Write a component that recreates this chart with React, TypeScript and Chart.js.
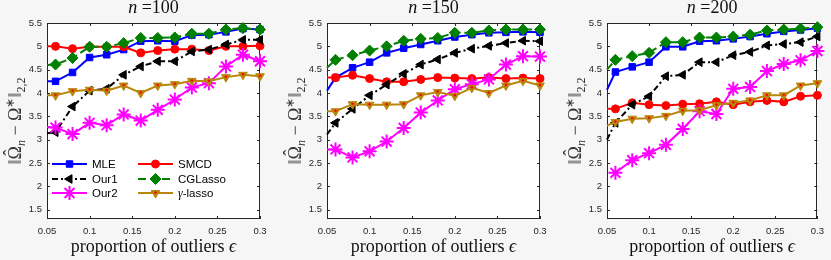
import React, { useEffect, useRef } from 'react';
import { Chart, registerables } from 'chart.js';
import { drawPoint } from 'chart.js/helpers';
Chart.register(...registerables);

// ---------------- data ----------------
const epsilonValues = [0.05, 0.06, 0.08, 0.1, 0.12, 0.14, 0.16, 0.18, 0.2, 0.22, 0.24, 0.26, 0.28, 0.3];
const xTickValues = [0.05, 0.1, 0.15, 0.2, 0.25, 0.3];
const yTickValues = [1.5, 2, 2.5, 3, 3.5, 4, 4.5, 5, 5.5];
const methodNames = ['MLE', 'SMCD', 'Our1', 'CGLasso', 'Our2', 'γ-lasso'];
const sampleSizes = [100, 150, 200];

// n = 100
const mle100 = [4.25, 4.25, 4.44, 4.76, 4.82, 4.93, 5.11, 5.12, 5.11, 5.24, 5.25, 5.31, 5.38, 5.36];
const smcd100 = [5.0, 5.0, 4.95, 4.99, 4.99, 4.99, 4.86, 4.91, 4.94, 4.94, 4.91, 5.0, 5.0, 5.01];
const our1_100 = [3.14, 3.16, 3.71, 4.05, 4.09, 4.39, 4.57, 4.68, 4.68, 4.89, 4.93, 5.04, 5.14, 5.14];
const cglasso100 = [4.6, 4.61, 4.75, 4.99, 4.99, 5.07, 5.18, 5.18, 5.19, 5.27, 5.27, 5.36, 5.39, 5.36];
const our2_100 = [3.27, 3.26, 3.12, 3.36, 3.31, 3.54, 3.41, 3.64, 3.86, 4.12, 4.21, 4.57, 4.82, 4.68];
const gammaLasso100 = [3.95, 3.95, 4.04, 4.07, 4.05, 4.16, 4.0, 4.16, 4.19, 4.26, 4.25, 4.34, 4.39, 4.36];

// n = 150
const mle150 = [4.05, 4.33, 4.54, 4.66, 4.86, 4.96, 5.04, 5.12, 5.2, 5.25, 5.29, 5.3, 5.31, 5.3];
const smcd150 = [4.33, 4.33, 4.38, 4.31, 4.24, 4.24, 4.29, 4.33, 4.32, 4.31, 4.33, 4.31, 4.32, 4.31];
const our1_150 = [3.11, 3.36, 3.66, 3.95, 4.18, 4.41, 4.61, 4.72, 4.86, 4.95, 5.01, 5.07, 5.12, 5.11];
const cglasso150 = [4.54, 4.71, 4.81, 4.91, 5.0, 5.12, 5.16, 5.18, 5.29, 5.29, 5.34, 5.36, 5.36, 5.36];
const our2_150 = [2.79, 2.79, 2.62, 2.75, 2.96, 3.25, 3.58, 3.84, 4.08, 4.19, 4.29, 4.61, 4.79, 4.78];
const gammaLasso150 = [3.61, 3.61, 3.76, 3.75, 3.75, 3.76, 3.95, 4.02, 3.94, 4.11, 4.0, 4.16, 4.26, 4.16];

// n = 200
const mle200 = [4.07, 4.45, 4.56, 4.66, 4.99, 4.99, 5.11, 5.12, 5.16, 5.21, 5.27, 5.32, 5.35, 5.39];
const smcd200 = [3.66, 3.66, 3.79, 3.75, 3.73, 3.76, 3.77, 3.81, 3.75, 3.81, 3.84, 3.81, 3.93, 3.95];
const our1_200 = [3.0, 3.36, 3.75, 3.93, 4.36, 4.39, 4.66, 4.66, 4.81, 4.88, 5.02, 5.05, 5.09, 5.21];
const cglasso200 = [4.5, 4.71, 4.79, 4.86, 5.09, 5.09, 5.19, 5.19, 5.21, 5.25, 5.34, 5.36, 5.38, 5.41];
const our2_200 = [null, 2.29, 2.56, 2.71, 2.89, 3.23, 3.61, 3.55, 4.09, 4.13, 4.47, 4.62, 4.7, 4.9];
const gammaLasso200 = [3.3, 3.38, 3.45, 3.46, 3.51, 3.62, 3.63, 3.74, 3.79, 3.84, 3.95, 3.95, 4.16, 4.21];

const panelSeries = [
  [mle100, smcd100, our1_100, cglasso100, our2_100, gammaLasso100],
  [mle150, smcd150, our1_150, cglasso150, our2_150, gammaLasso150],
  [mle200, smcd200, our1_200, cglasso200, our2_200, gammaLasso200],
];

// ---------------- layout & style ----------------
const FIG_W = 831;
const FIG_H = 260;
const PLOT_TOP = 23;
const PLOT_LEFTS = [47, 327, 607];
const PLOT_W = 213;
const Y_AXIS_W = 47;
const X_AXIS_H = 41;
const AXIS_COLOR = '#262626';
const SERIF = "'Liberation Serif', 'Times New Roman', serif";
const SANS = "'Liberation Sans', Arial, Helvetica, sans-serif";
const TITLE_SIZE = 18;

type Style = {
  color: string; pointStyle: string; rotation: number; radius: number;
  dash: number[]; pbw: number; fill: boolean; dot?: boolean;
};
const STYLES: Style[] = [
  { color: '#0000ff', pointStyle: 'rect', rotation: 0, radius: 4.6, dash: [], pbw: 1, fill: true },
  { color: '#ff0000', pointStyle: 'circle', rotation: 0, radius: 4, dash: [], pbw: 1, fill: true },
  { color: '#000000', pointStyle: 'triangle', rotation: 270, radius: 5, dash: [6, 3, 2, 3], pbw: 1, fill: true },
  { color: '#008000', pointStyle: 'rectRot', rotation: 0, radius: 5.5, dash: [8, 4], pbw: 1, fill: true },
  { color: '#ff00ff', pointStyle: 'star', rotation: 0, radius: 7, dash: [], pbw: 2, fill: false },
  { color: '#b8860b', pointStyle: 'triangle', rotation: 180, radius: 5, dash: [], pbw: 1, fill: true, dot: true },
];

type Run = { text: string; font: string; dy?: number; hat?: boolean; w?: number };

function drawRuns(ctx: CanvasRenderingContext2D, runs: Run[], cx: number, y: number) {
  let total = 0;
  for (const r of runs) {
    ctx.font = r.font;
    r.w = ctx.measureText(r.text).width;
    total += r.w;
  }
  let x = cx - total / 2;
  ctx.textBaseline = 'alphabetic';
  ctx.textAlign = 'left';
  for (const r of runs) {
    ctx.font = r.font;
    ctx.fillText(r.text, x, y + (r.dy || 0));
    if (r.hat) {
      const hw = ctx.measureText('ˆ').width;
      ctx.fillText('ˆ', x + (r.w as number) / 2 - hw / 2, y - 5);
    }
    x += r.w as number;
  }
}

function makeDecorPlugin(panelIndex: number, showLegend: boolean) {
  return {
    id: 'decor' + panelIndex,
    beforeDraw(chart: any) {
      const { ctx, chartArea: a } = chart;
      ctx.save();
      ctx.fillStyle = '#ffffff';
      ctx.fillRect(a.left, a.top, a.right - a.left, a.bottom - a.top);
      ctx.restore();
    },
    beforeDatasetsDraw(chart: any) {
      const { ctx, chartArea: a, scales } = chart;
      ctx.save();
      ctx.strokeStyle = AXIS_COLOR;
      ctx.lineWidth = 1;
      ctx.strokeRect(Math.round(a.left) + 0.5, Math.round(a.top) + 0.5,
        Math.round(a.right - a.left) - 1, Math.round(a.bottom - a.top) - 1);
      const tl = 3;
      ctx.beginPath();
      for (const v of xTickValues) {
        const px = Math.round(scales.x.getPixelForValue(v)) + 0.5;
        ctx.moveTo(px, a.bottom); ctx.lineTo(px, a.bottom - tl);
        ctx.moveTo(px, a.top); ctx.lineTo(px, a.top + tl);
      }
      for (const v of yTickValues) {
        const py = Math.round(scales.y.getPixelForValue(v)) + 0.5;
        ctx.moveTo(a.left, py); ctx.lineTo(a.left + tl, py);
        ctx.moveTo(a.right, py); ctx.lineTo(a.right - tl, py);
      }
      ctx.stroke();
      ctx.restore();
    },
    afterDatasetsDraw(chart: any) {
      const { ctx, chartArea: a } = chart;
      ctx.save();
      // red centre dots on the gamma-lasso triangles
      chart.data.datasets.forEach((ds: any, k: number) => {
        if (!STYLES[k].dot) return;
        const meta = chart.getDatasetMeta(k);
        meta.data.forEach((pt: any, j: number) => {
          if (j === 0 || ds.data[j].y == null) return;
          ctx.fillStyle = '#ff0000';
          ctx.beginPath();
          ctx.arc(pt.x, pt.y - 0.5, 1.2, 0, Math.PI * 2);
          ctx.fill();
        });
      });

      // legend (first panel only)
      if (showLegend) {
        const rows = [164, 179, 193];
        const cols = [{ x0: 52, x1: 87, tx: 92 }, { x0: 138, x1: 173, tx: 178 }];
        methodNames.forEach((name, k) => {
          const st = STYLES[k];
          const row = rows[Math.floor(k / 2)];
          const col = cols[k % 2];
          ctx.save();
          ctx.strokeStyle = st.color;
          ctx.lineWidth = 2;
          ctx.setLineDash(st.dash);
          ctx.beginPath();
          ctx.moveTo(col.x0, row);
          ctx.lineTo(col.x1, row);
          ctx.stroke();
          ctx.setLineDash([]);
          ctx.fillStyle = st.fill ? st.color : 'rgba(0,0,0,0)';
          ctx.lineWidth = st.pbw;
          const mx = (col.x0 + col.x1) / 2;
          drawPoint(ctx, { pointStyle: st.pointStyle as any, rotation: st.rotation, radius: st.radius, borderWidth: st.pbw }, mx, row);
          if (st.dot) {
            ctx.fillStyle = '#ff0000';
            ctx.beginPath();
            ctx.arc(mx, row - 0.5, 1.2, 0, Math.PI * 2);
            ctx.fill();
          }
          ctx.restore();
          ctx.fillStyle = '#000000';
          ctx.textBaseline = 'middle';
          ctx.textAlign = 'left';
          if (name.startsWith('γ')) {
            ctx.font = `italic 12px ${SERIF}`;
            ctx.fillText('γ', col.tx, row + 1);
            const gw = ctx.measureText('γ').width;
            ctx.font = `11.5px ${SANS}`;
            ctx.fillText(name.slice(1), col.tx + gw, row + 1);
          } else {
            ctx.font = `11.5px ${SANS}`;
            ctx.fillText(name, col.tx, row + 1);
          }
        });
      }

      // title
      ctx.fillStyle = '#111111';
      const cx = (a.left + a.right) / 2;
      drawRuns(ctx, [
        { text: 'n', font: `italic ${TITLE_SIZE}px ${SERIF}` },
        { text: ' =' + sampleSizes[panelIndex], font: `${TITLE_SIZE}px ${SERIF}` },
      ], cx, 13);

      // x-axis title
      drawRuns(ctx, [
        { text: 'proportion of outliers ', font: `${TITLE_SIZE}px ${SERIF}` },
        { text: 'ϵ', font: `italic ${TITLE_SIZE}px ${SERIF}` },
      ], cx, 252);

      // y-axis title (rotated)
      ctx.save();
      ctx.translate(a.left - 26, (a.top + a.bottom) / 2);
      ctx.rotate(-Math.PI / 2);
      ctx.fillStyle = '#333333';
      const main = `${TITLE_SIZE}px ${SERIF}`;
      const sub = `12px ${SERIF}`;
      drawRuns(ctx, [
        { text: '‖', font: main },
        { text: 'Ω', font: main, hat: true },
        { text: 'n', font: `italic 12px ${SERIF}`, dy: 4 },
        { text: ' − ', font: main },
        { text: 'Ω', font: main },
        { text: '∗', font: sub, dy: -7 },
        { text: '‖', font: main },
        { text: '2,2', font: sub, dy: 4 },
      ], 0, 0);
      ctx.restore();
      ctx.restore();
    },
  };
}

function buildChart(canvas: HTMLCanvasElement, panelIndex: number, width: number) {
  const series = panelSeries[panelIndex];
  const padRight = width - Y_AXIS_W - PLOT_W;
  return new Chart(canvas, {
    type: 'line',
    data: {
      datasets: series.map((vals, k) => {
        const st = STYLES[k];
        return {
          label: methodNames[k],
          data: epsilonValues.map((x, j) => ({ x, y: vals[j] })),
          borderColor: st.color,
          backgroundColor: st.color,
          borderWidth: 2,
          borderDash: st.dash,
          pointStyle: st.pointStyle as any,
          pointRotation: st.rotation,
          pointRadius: (c: any) => (c.dataIndex === 0 ? 0 : st.radius),
          pointHoverRadius: 0,
          pointBorderWidth: st.pbw,
          pointBorderColor: st.color,
          pointBackgroundColor: st.fill ? st.color : 'rgba(0,0,0,0)',
          tension: 0,
          clip: false as any,
          order: -k,
          spanGaps: false,
        } as any;
      }),
    },
    options: {
      animation: false,
      responsive: false,
      maintainAspectRatio: false,
      events: [],
      layout: { padding: { top: PLOT_TOP, right: padRight, bottom: 0, left: 0 } },
      plugins: { legend: { display: false }, tooltip: { enabled: false }, title: { display: false } },
      scales: {
        x: {
          type: 'linear',
          min: 0.05,
          max: 0.3,
          afterBuildTicks: (s: any) => { s.ticks = xTickValues.map((v) => ({ value: v })); },
          afterFit: (s: any) => { s.height = X_AXIS_H; },
          grid: { display: false, drawTicks: false },
          border: { display: false },
          ticks: {
            autoSkip: false, maxRotation: 0, padding: 7, color: AXIS_COLOR,
            font: { family: SANS, size: 9.5 },
            callback: (v: any) => String(v),
          },
        },
        y: {
          type: 'linear',
          min: 1.3,
          max: 5.5,
          afterBuildTicks: (s: any) => { s.ticks = yTickValues.map((v) => ({ value: v })); },
          afterFit: (s: any) => { s.width = Y_AXIS_W; },
          grid: { display: false, drawTicks: false },
          border: { display: false },
          ticks: {
            autoSkip: false, padding: 5, color: AXIS_COLOR,
            font: { family: SANS, size: 9.5 },
            callback: (v: any) => String(v),
          },
        },
      },
    } as any,
    plugins: [makeDecorPlugin(panelIndex, panelIndex === 0) as any],
  });
}

const panelBoxes = PLOT_LEFTS.map((pl) => {
  const left = pl - Y_AXIS_W;
  return { left, width: Math.min(280, FIG_W - left) };
});

export default function App() {
  const r0 = useRef<HTMLCanvasElement>(null);
  const r1 = useRef<HTMLCanvasElement>(null);
  const r2 = useRef<HTMLCanvasElement>(null);
  const refs = [r0, r1, r2];
  useEffect(() => {
    const charts = refs.map((r, i) => buildChart(r.current as HTMLCanvasElement, i, panelBoxes[i].width));
    return () => charts.forEach((c) => c.destroy());
  }, []);
  return (
    <div style={{ position: 'absolute', left: 0, top: 0, width: FIG_W, height: FIG_H, background: '#f6f6f6', overflow: 'hidden' }}>
      {panelBoxes.map((b, i) => (
        <canvas
          key={i}
          ref={refs[i]}
          width={b.width}
          height={FIG_H}
          style={{ position: 'absolute', left: b.left, top: 0, width: b.width, height: FIG_H }}
        />
      ))}
    </div>
  );
}
